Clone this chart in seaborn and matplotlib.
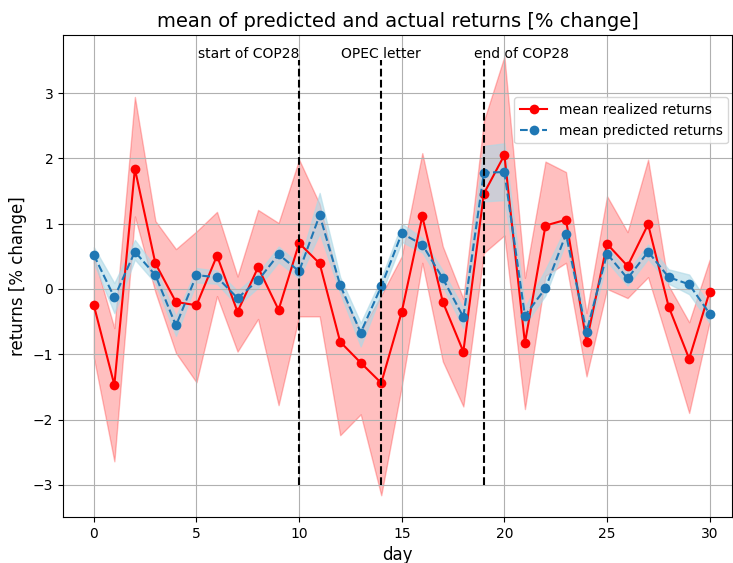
import numpy as np
import pandas as pd
import matplotlib
matplotlib.use('Agg')
import matplotlib.pyplot as plt
import seaborn as sns

days = list(range(31))

realized = [-0.25, -1.47, 1.84, 0.39, -0.20, -0.25, 0.51, -0.35, 0.33, -0.32,
            0.70, 0.39, -0.81, -1.13, -1.44, -0.35, 1.11, -0.20, -0.96, 1.46,
            2.05, -0.83, 0.97, 1.06, -0.81, 0.69, 0.35, 0.99, -0.27, -1.07, -0.04]
realized_upper = [0.50, -0.60, 2.94, 1.04, 0.61, 0.88, 1.18, 0.19, 1.21, 1.01,
                  1.98, 1.30, 0.00, -0.65, -0.10, 0.50, 2.08, 0.65, -0.15, 2.57,
                  3.56, 0.17, 1.95, 1.79, -0.37, 1.42, 0.87, 1.98, 0.05, -0.51, 0.45]
realized_lower = [-1.05, -2.64, 1.11, -0.05, -0.98, -1.43, -0.11, -0.96, -0.46, -1.78,
                  -0.42, -0.42, -2.24, -1.92, -3.16, -1.49, 0.40, -1.11, -1.80, 0.55,
                  0.82, -1.84, 0.20, 0.40, -1.34, 0.00, -0.14, 0.18, -0.85, -1.90, -0.50]

predicted = [0.52, -0.13, 0.57, 0.21, -0.56, 0.21, 0.18, -0.14, 0.13, 0.53,
             0.27, 1.13, 0.06, -0.67, 0.04, 0.85, 0.68, 0.16, -0.43, 1.78,
             1.79, -0.41, 0.01, 0.84, -0.66, 0.54, 0.16, 0.57, 0.18, 0.07, -0.38]
predicted_upper = [0.64, 0.09, 0.75, 0.33, -0.42, 0.32, 0.28, -0.03, 0.24, 0.65,
                   0.38, 1.47, 0.18, -0.52, 0.16, 1.00, 0.78, 0.28, -0.30, 2.19,
                   2.23, -0.28, 0.30, 0.95, -0.55, 0.65, 0.26, 0.68, 0.30, 0.22, -0.25]
predicted_lower = [0.40, -0.37, 0.45, 0.09, -0.72, 0.10, 0.08, -0.26, 0.02, 0.41,
                   0.16, 0.85, -0.06, -0.88, -0.08, 0.72, 0.56, 0.04, -0.60, 1.34,
                   1.36, -0.55, -0.10, 0.72, -0.80, 0.42, 0.05, 0.46, 0.08, -0.08, -0.52]

events = [10, 14, 19]
event_labels = ['start of COP28', 'OPEC letter', 'end of COP28']

df = pd.DataFrame({'day': days, 'realized': realized, 'predicted': predicted})

fig = plt.figure(figsize=(7.33, 5.63), dpi=100)
ax = fig.add_axes([0.086, 0.082, 0.913, 0.856])

ax.fill_between(df['day'], realized_lower, realized_upper, color='red', alpha=0.25)
ax.fill_between(df['day'], predicted_lower, predicted_upper, color='lightblue', alpha=0.6)
sns.lineplot(data=df, x='day', y='realized', color='red', marker='o', markersize=7,
             markeredgewidth=0, label='mean realized returns', ax=ax)
sns.lineplot(data=df, x='day', y='predicted', color='tab:blue', marker='o', markersize=7,
             markeredgewidth=0, linestyle='--', label='mean predicted returns', ax=ax)

ax.vlines(events, -3, 3.5, colors='black', linestyles='--')
ax.text(10, 3.6, event_labels[0], ha='right', va='center', fontsize=10)
ax.text(14, 3.6, event_labels[1], ha='center', va='center', fontsize=10)
ax.text(18.5, 3.6, event_labels[2], ha='left', va='center', fontsize=10)

ax.set_xlim(-1.5, 31.1)
ax.set_ylim(-3.49, 3.89)
ax.grid(True)
ax.set_title('mean of predicted and actual returns [% change]', fontsize=14)
ax.set_xlabel('day', fontsize=12)
ax.set_ylabel('returns [% change]', fontsize=12)
ax.legend(loc='upper right', bbox_to_anchor=(1.004, 0.885))

plt.savefig('out.png', dpi=100)
